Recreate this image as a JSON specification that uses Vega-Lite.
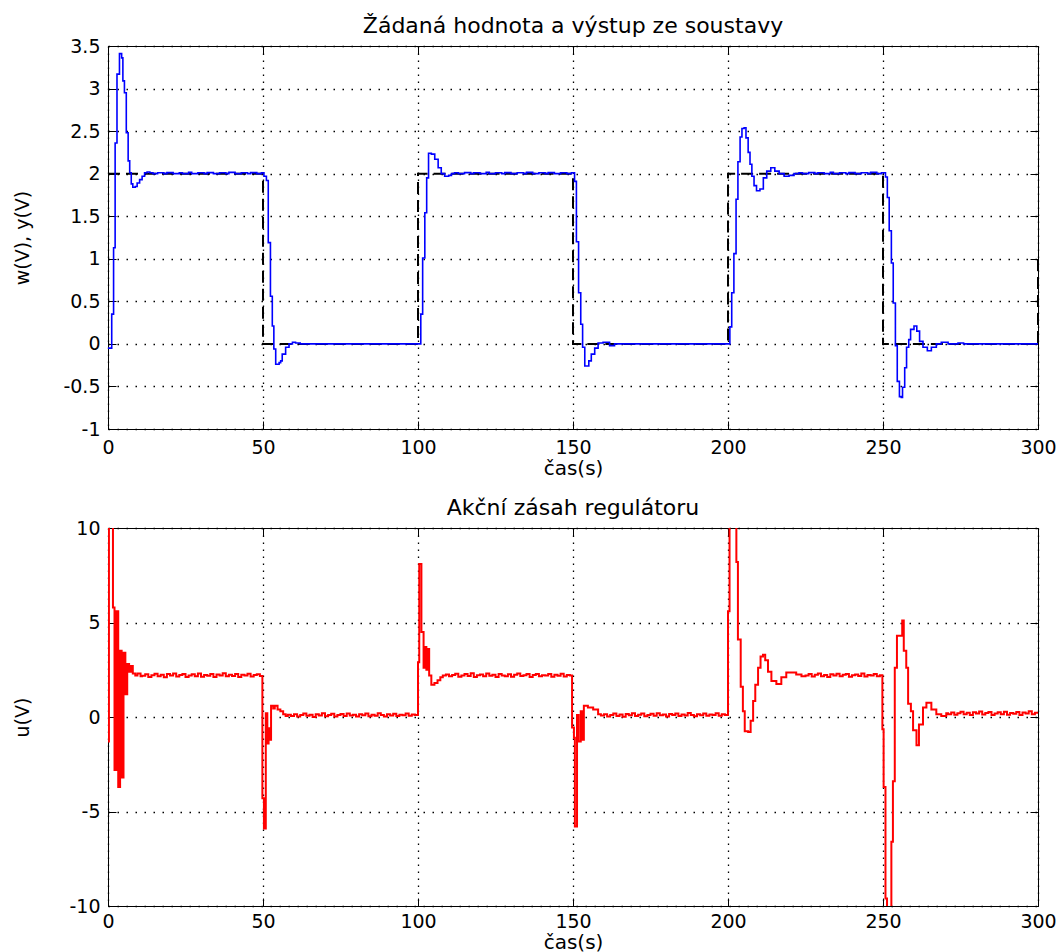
{
"$schema": "https://vega.github.io/schema/vega-lite/v6.json",
"background": "white",
"padding": {"left": 12, "top": 14, "right": 5, "bottom": 0},
"spacing": 17,
"config": {
  "view": {"stroke": "black", "strokeWidth": 1},
  "font": "DejaVu Sans",
  "title": {"font": "DejaVu Sans", "fontSize": 22, "fontWeight": "normal", "color": "black", "offset": -1, "anchor": "middle", "frame": "group"},
  "axis": {"labelFont": "DejaVu Sans", "labelFontSize": 19, "labelColor": "black", "titleFont": "DejaVu Sans", "titleFontSize": 19, "titleFontWeight": "normal", "titleColor": "black", "domainColor": "black", "tickColor": "black", "tickSize": -8, "labelFlush": false, "gridColor": "black", "gridOpacity": 1, "gridWidth": 1.3},
  "axisX": {"labelPadding": 14, "titlePadding": 1, "titleFontSize": 20, "gridDash": [1.5, 5.5]},
  "axisY": {"labelPadding": 16, "gridDash": [1.5, 7.5]}
},
"datasets": {
"w": [{"t":0,"v":2},{"t":50,"v":0},{"t":100,"v":2},{"t":150,"v":0},{"t":200,"v":2},{"t":250,"v":0},{"t":300,"v":1}],
"y": [{"t":0,"v":-0.05},{"t":1.2,"v":0.35},{"t":1.8,"v":1.13},{"t":2.3,"v":2.36},{"t":2.9,"v":3.17},{"t":3.7,"v":3.41},{"t":4.4,"v":3.36},{"t":4.8,"v":3.09},{"t":5.3,"v":2.95},{"t":5.9,"v":2.48},{"t":6.5,"v":2.15},{"t":7.0,"v":2.01},{"t":7.5,"v":1.88},{"t":8.0,"v":1.84},{"t":8.8,"v":1.85},{"t":9.4,"v":1.89},{"t":10.2,"v":1.93},{"t":11.0,"v":1.97},{"t":11.8,"v":2.01},{"t":12.6,"v":2.02},{"t":13.5,"v":2.01},{"t":14.5,"v":2.0},{"t":16,"v":2.01},{"t":18,"v":2.0},{"t":19,"v":2.012},{"t":21,"v":2.0},{"t":23,"v":2.01},{"t":24,"v":2.0},{"t":26,"v":2.015},{"t":27,"v":2.0},{"t":29,"v":2.01},{"t":31,"v":2.0},{"t":32,"v":2.012},{"t":34,"v":2.0},{"t":36,"v":2.01},{"t":38,"v":2.0},{"t":39,"v":2.015},{"t":41,"v":2.0},{"t":43,"v":2.01},{"t":45,"v":2.0},{"t":46,"v":2.012},{"t":48,"v":2.0},{"t":49.5,"v":2.01},{"t":50.3,"v":1.97},{"t":51.1,"v":1.92},{"t":51.7,"v":1.19},{"t":52.4,"v":0.56},{"t":53.0,"v":0.21},{"t":53.5,"v":-0.06},{"t":54.1,"v":-0.24},{"t":55.2,"v":-0.22},{"t":55.7,"v":-0.2},{"t":56.2,"v":-0.12},{"t":57.3,"v":-0.04},{"t":58.4,"v":0.0},{"t":59.5,"v":0.02},{"t":60.5,"v":0.01},{"t":62,"v":0.0},{"t":100.9,"v":0.35},{"t":101.5,"v":1.01},{"t":102.2,"v":1.54},{"t":102.8,"v":1.95},{"t":103.4,"v":2.24},{"t":104.3,"v":2.23},{"t":105.4,"v":2.17},{"t":106.5,"v":2.07},{"t":107.5,"v":2.0},{"t":108.6,"v":1.97},{"t":109.9,"v":1.98},{"t":110.8,"v":2.0},{"t":111.8,"v":2.01},{"t":113,"v":2.0},{"t":115,"v":2.012},{"t":117,"v":2.0},{"t":118,"v":2.01},{"t":120,"v":2.0},{"t":122,"v":2.015},{"t":123,"v":2.0},{"t":125,"v":2.01},{"t":127,"v":2.0},{"t":128,"v":2.012},{"t":130,"v":2.0},{"t":132,"v":2.01},{"t":134,"v":2.0},{"t":135,"v":2.015},{"t":137,"v":2.0},{"t":139,"v":2.01},{"t":141,"v":2.0},{"t":142,"v":2.012},{"t":144,"v":2.0},{"t":146,"v":2.01},{"t":148,"v":2.0},{"t":149.5,"v":2.01},{"t":150.5,"v":1.91},{"t":151.1,"v":1.2},{"t":151.8,"v":0.6},{"t":152.5,"v":0.23},{"t":153.1,"v":-0.04},{"t":153.8,"v":-0.26},{"t":155.1,"v":-0.2},{"t":155.9,"v":-0.12},{"t":157.0,"v":-0.05},{"t":158.1,"v":0.01},{"t":159.7,"v":0.02},{"t":161.8,"v":-0.02},{"t":163.4,"v":0.0},{"t":200.6,"v":0.2},{"t":201.2,"v":0.6},{"t":201.9,"v":1.06},{"t":202.6,"v":1.7},{"t":203.2,"v":2.14},{"t":203.9,"v":2.43},{"t":204.5,"v":2.53},{"t":205.2,"v":2.54},{"t":205.8,"v":2.42},{"t":206.5,"v":2.25},{"t":207.1,"v":2.11},{"t":207.7,"v":1.97},{"t":208.4,"v":1.86},{"t":209.2,"v":1.8},{"t":210.3,"v":1.82},{"t":211.4,"v":1.95},{"t":212.5,"v":2.03},{"t":213.8,"v":2.07},{"t":215.1,"v":2.03},{"t":216.5,"v":2.0},{"t":218.1,"v":1.97},{"t":219.7,"v":1.98},{"t":221.3,"v":2.0},{"t":222.9,"v":2.01},{"t":224,"v":2.0},{"t":226,"v":2.012},{"t":228,"v":2.0},{"t":229,"v":2.01},{"t":231,"v":2.0},{"t":233,"v":2.015},{"t":234,"v":2.0},{"t":236,"v":2.01},{"t":238,"v":2.0},{"t":239,"v":2.012},{"t":241,"v":2.0},{"t":243,"v":2.01},{"t":245,"v":2.0},{"t":246,"v":2.015},{"t":248,"v":2.0},{"t":249.5,"v":2.01},{"t":250.8,"v":1.96},{"t":251.4,"v":1.72},{"t":252.0,"v":1.33},{"t":252.7,"v":0.95},{"t":253.3,"v":0.48},{"t":254.0,"v":-0.02},{"t":254.6,"v":-0.44},{"t":255.3,"v":-0.62},{"t":255.9,"v":-0.63},{"t":256.3,"v":-0.51},{"t":257.0,"v":-0.28},{"t":257.6,"v":-0.04},{"t":258.3,"v":0.05},{"t":258.9,"v":0.17},{"t":260.0,"v":0.21},{"t":260.9,"v":0.15},{"t":261.8,"v":0.03},{"t":262.9,"v":-0.04},{"t":264.3,"v":-0.08},{"t":265.6,"v":-0.04},{"t":267.2,"v":0.0},{"t":268.8,"v":0.02},{"t":271.0,"v":0.0},{"t":274.2,"v":0.01},{"t":276,"v":0.0},{"t":300,"v":0.0}],
"u": [{"t":0,"v":-1.3},{"t":0.3,"v":14},{"t":1.6,"v":5.8},{"t":2.1,"v":-2.8},{"t":2.7,"v":5.6},{"t":3.3,"v":-3.7},{"t":3.9,"v":3.5},{"t":4.4,"v":-3.2},{"t":5.0,"v":3.4},{"t":5.6,"v":1.2},{"t":6.2,"v":2.8},{"t":6.8,"v":2.4},{"t":7.4,"v":2.7},{"t":8.0,"v":2.3},{"t":8.8,"v":2.2},{"t":9.5,"v":2.3},{"t":10.5,"v":2.15},
{"t":11,"v":2.18},{"t":12,"v":2.26},{"t":13,"v":2.12},{"t":14,"v":2.21},{"t":15,"v":2.29},{"t":16,"v":2.15},{"t":17,"v":2.23},{"t":18,"v":2.1},{"t":19,"v":2.27},{"t":20,"v":2.19},{"t":21,"v":2.3},{"t":22,"v":2.14},{"t":23,"v":2.22},{"t":24,"v":2.28},{"t":25,"v":2.12},{"t":26,"v":2.2},{"t":27,"v":2.26},{"t":28,"v":2.16},{"t":29,"v":2.3},{"t":30,"v":2.13},{"t":31,"v":2.22},{"t":32,"v":2.18},{"t":33,"v":2.28},{"t":34,"v":2.11},{"t":35,"v":2.25},{"t":36,"v":2.2},{"t":37,"v":2.31},{"t":38,"v":2.15},{"t":39,"v":2.23},{"t":40,"v":2.17},{"t":41,"v":2.27},{"t":42,"v":2.12},{"t":43,"v":2.24},{"t":44,"v":2.19},{"t":45,"v":2.29},{"t":46,"v":2.14},{"t":47,"v":2.22},{"t":48,"v":2.26},{"t":49,"v":2.17},
{"t":49.8,"v":-4.3},{"t":50.3,"v":-5.9},{"t":50.9,"v":0.2},{"t":51.4,"v":-1.4},{"t":51.8,"v":-0.6},{"t":52.2,"v":-1.2},{"t":52.6,"v":0.6},{"t":53.3,"v":0.45},{"t":53.8,"v":0.6},{"t":54.7,"v":0.4},{"t":55.6,"v":0.3},{"t":56.5,"v":0.15},{"t":57.3,"v":0.05},{"t":58,"v":0.12},
{"t":59,"v":0.05},{"t":60,"v":0.14},{"t":61,"v":0.02},{"t":62,"v":0.1},{"t":63,"v":0.18},{"t":64,"v":0.06},{"t":65,"v":0.12},{"t":66,"v":0.0},{"t":67,"v":0.15},{"t":68,"v":0.08},{"t":69,"v":0.2},{"t":70,"v":0.04},{"t":71,"v":0.11},{"t":72,"v":0.17},{"t":73,"v":0.03},{"t":74,"v":0.1},{"t":75,"v":0.16},{"t":76,"v":0.05},{"t":77,"v":0.19},{"t":78,"v":0.08},{"t":79,"v":0.12},{"t":80,"v":0.02},{"t":81,"v":0.15},{"t":82,"v":0.09},{"t":83,"v":0.18},{"t":84,"v":0.04},{"t":85,"v":0.12},{"t":86,"v":0.07},{"t":87,"v":0.2},{"t":88,"v":0.1},{"t":89,"v":0.03},{"t":90,"v":0.14},{"t":91,"v":0.08},{"t":92,"v":0.17},{"t":93,"v":0.05},{"t":94,"v":0.12},{"t":95,"v":0.09},{"t":96,"v":0.19},{"t":97,"v":0.06},{"t":98,"v":0.13},{"t":99,"v":0.1},
{"t":100.0,"v":2.9},{"t":100.4,"v":8.1},{"t":101.1,"v":4.5},{"t":101.8,"v":2.6},{"t":102.3,"v":3.7},{"t":102.7,"v":2.5},{"t":103.2,"v":3.6},{"t":103.6,"v":2.2},{"t":104.3,"v":1.7},{"t":105.3,"v":1.8},{"t":106.3,"v":1.95},{"t":107.2,"v":2.1},{"t":108,"v":2.2},
{"t":109,"v":2.25},{"t":110,"v":2.15},{"t":111,"v":2.22},{"t":112,"v":2.29},{"t":113,"v":2.13},{"t":114,"v":2.2},{"t":115,"v":2.27},{"t":116,"v":2.17},{"t":117,"v":2.31},{"t":118,"v":2.12},{"t":119,"v":2.21},{"t":120,"v":2.25},{"t":121,"v":2.15},{"t":122,"v":2.3},{"t":123,"v":2.18},{"t":124,"v":2.23},{"t":125,"v":2.11},{"t":126,"v":2.27},{"t":127,"v":2.2},{"t":128,"v":2.16},{"t":129,"v":2.26},{"t":130,"v":2.13},{"t":131,"v":2.23},{"t":132,"v":2.3},{"t":133,"v":2.17},{"t":134,"v":2.21},{"t":135,"v":2.27},{"t":136,"v":2.12},{"t":137,"v":2.22},{"t":138,"v":2.28},{"t":139,"v":2.15},{"t":140,"v":2.21},{"t":141,"v":2.19},{"t":142,"v":2.28},{"t":143,"v":2.13},{"t":144,"v":2.24},{"t":145,"v":2.18},{"t":146,"v":2.29},{"t":147,"v":2.14},{"t":148,"v":2.22},{"t":149,"v":2.2},
{"t":149.7,"v":-0.56},{"t":150.3,"v":-1.1},{"t":150.6,"v":-5.8},{"t":151.3,"v":0.1},{"t":151.8,"v":-1.3},{"t":152.5,"v":0.3},{"t":152.9,"v":-1.2},{"t":153.5,"v":0.6},{"t":154.8,"v":0.5},{"t":156.5,"v":0.4},{"t":158.1,"v":0.15},
{"t":159,"v":0.08},{"t":160,"v":0.15},{"t":161,"v":0.03},{"t":162,"v":0.11},{"t":163,"v":0.19},{"t":164,"v":0.05},{"t":165,"v":0.13},{"t":166,"v":0.01},{"t":167,"v":0.16},{"t":168,"v":0.09},{"t":169,"v":0.2},{"t":170,"v":0.05},{"t":171,"v":0.12},{"t":172,"v":0.18},{"t":173,"v":0.04},{"t":174,"v":0.11},{"t":175,"v":0.17},{"t":176,"v":0.06},{"t":177,"v":0.2},{"t":178,"v":0.09},{"t":179,"v":0.13},{"t":180,"v":0.03},{"t":181,"v":0.16},{"t":182,"v":0.1},{"t":183,"v":0.19},{"t":184,"v":0.05},{"t":185,"v":0.13},{"t":186,"v":0.08},{"t":187,"v":0.21},{"t":188,"v":0.11},{"t":189,"v":0.04},{"t":190,"v":0.15},{"t":191,"v":0.09},{"t":192,"v":0.18},{"t":193,"v":0.06},{"t":194,"v":0.13},{"t":195,"v":0.1},{"t":196,"v":0.2},{"t":197,"v":0.07},{"t":198,"v":0.14},{"t":199,"v":0.11},
{"t":200.0,"v":5.6},{"t":200.5,"v":14},{"t":202.7,"v":8.2},{"t":203.2,"v":4.1},{"t":204.1,"v":1.6},{"t":204.8,"v":0.3},{"t":205.4,"v":-0.75},{"t":206.5,"v":-0.8},{"t":207.3,"v":-0.2},{"t":208.1,"v":0.85},{"t":208.8,"v":1.7},{"t":209.7,"v":2.6},{"t":210.5,"v":3.2},{"t":211.3,"v":3.3},{"t":212.0,"v":3.0},{"t":212.9,"v":2.4},{"t":214.0,"v":1.9},{"t":215.6,"v":1.75},{"t":217.2,"v":2.1},{"t":218.8,"v":2.35},{"t":220.4,"v":2.35},{"t":222.0,"v":2.25},{"t":223.7,"v":2.15},
{"t":225,"v":2.2},{"t":226,"v":2.27},{"t":227,"v":2.14},{"t":228,"v":2.23},{"t":229,"v":2.3},{"t":230,"v":2.16},{"t":231,"v":2.22},{"t":232,"v":2.12},{"t":233,"v":2.26},{"t":234,"v":2.19},{"t":235,"v":2.29},{"t":236,"v":2.15},{"t":237,"v":2.24},{"t":238,"v":2.28},{"t":239,"v":2.13},{"t":240,"v":2.21},{"t":241,"v":2.25},{"t":242,"v":2.17},{"t":243,"v":2.3},{"t":244,"v":2.14},{"t":245,"v":2.22},{"t":246,"v":2.19},{"t":247,"v":2.27},{"t":248,"v":2.15},{"t":249,"v":2.21},
{"t":249.8,"v":-0.65},{"t":250.2,"v":-3.7},{"t":250.8,"v":-9.6},{"t":251.3,"v":-11},{"t":252.2,"v":-12},{"t":252.7,"v":-6.6},{"t":253.2,"v":-3.4},{"t":253.8,"v":2.6},{"t":254.5,"v":4.3},{"t":255.6,"v":4.3},{"t":256.2,"v":5.1},{"t":256.7,"v":3.5},{"t":257.5,"v":2.6},{"t":258.1,"v":0.7},{"t":259.0,"v":0.3},{"t":259.7,"v":-0.7},{"t":260.8,"v":-1.5},{"t":261.6,"v":-0.4},{"t":262.9,"v":0.5},{"t":264.0,"v":0.76},{"t":265.6,"v":0.4},{"t":267.2,"v":0.14},{"t":268.8,"v":0.05},{"t":270.4,"v":0.2},
{"t":271,"v":0.15},{"t":272,"v":0.24},{"t":273,"v":0.12},{"t":274,"v":0.2},{"t":275,"v":0.28},{"t":276,"v":0.14},{"t":277,"v":0.22},{"t":278,"v":0.1},{"t":279,"v":0.25},{"t":280,"v":0.18},{"t":281,"v":0.29},{"t":282,"v":0.13},{"t":283,"v":0.21},{"t":284,"v":0.26},{"t":285,"v":0.11},{"t":286,"v":0.19},{"t":287,"v":0.25},{"t":288,"v":0.15},{"t":289,"v":0.28},{"t":290,"v":0.12},{"t":291,"v":0.21},{"t":292,"v":0.17},{"t":293,"v":0.27},{"t":294,"v":0.1},{"t":295,"v":0.24},{"t":296,"v":0.19},{"t":297,"v":0.3},{"t":298,"v":0.14},{"t":299,"v":0.22},{"t":300,"v":0.18}]
},
"vconcat": [
{
  "title": "Žádaná hodnota a výstup ze soustavy",
  "width": 930, "height": 383,
  "layer": [
    {"data": {"name": "w"},
     "mark": {"type": "line", "interpolate": "step-after", "color": "black", "strokeWidth": 2, "strokeDash": [12, 6]},
     "encoding": {
       "x": {"field": "t", "type": "quantitative", "scale": {"domain": [0, 300], "nice": false},
             "axis": {"orient": "bottom", "title": "čas(s)", "values": [0, 50, 100, 150, 200, 250, 300], "grid": true, "labelPadding": 17}},
       "y": {"field": "v", "type": "quantitative", "scale": {"domain": [-1, 3.5], "nice": false, "zero": false},
             "axis": {"orient": "left", "title": "w(V), y(V)", "values": [-1, -0.5, 0, 0.5, 1, 1.5, 2, 2.5, 3, 3.5], "labelExpr": "'' + datum.value", "grid": true, "titleX": -76}}
     }},
    {"data": {"name": "y"},
     "mark": {"type": "line", "interpolate": "step-after", "color": "#0000ff", "strokeWidth": 1.6},
     "encoding": {
       "x": {"field": "t", "type": "quantitative",
             "axis": {"orient": "top", "labels": false, "title": null, "grid": false, "domain": false, "values": [0, 50, 100, 150, 200, 250, 300]}},
       "y": {"field": "v", "type": "quantitative",
             "axis": {"orient": "right", "labels": false, "title": null, "grid": false, "domain": false, "values": [-1, -0.5, 0, 0.5, 1, 1.5, 2, 2.5, 3, 3.5]}}
     }}
  ]
},
{
  "title": "Akční zásah regulátoru",
  "width": 930, "height": 378,
  "data": {"name": "u"},
  "layer": [
    {"mark": {"type": "line", "interpolate": "step-after", "color": "#ff0000", "strokeWidth": 2, "clip": true},
     "encoding": {
       "x": {"field": "t", "type": "quantitative", "scale": {"domain": [0, 300], "nice": false},
             "axis": {"orient": "bottom", "title": "čas(s)", "values": [0, 50, 100, 150, 200, 250, 300], "grid": true}},
       "y": {"field": "v", "type": "quantitative", "scale": {"domain": [-10, 10], "nice": false},
             "axis": {"orient": "left", "title": "u(V)", "values": [-10, -5, 0, 5, 10], "labelExpr": "'' + datum.value", "grid": true, "titleX": -76}}
     }},
    {"mark": {"type": "line", "interpolate": "step-after", "color": "#ff0000", "strokeWidth": 2, "opacity": 0, "clip": true},
     "encoding": {
       "x": {"field": "t", "type": "quantitative",
             "axis": {"orient": "top", "labels": false, "title": null, "grid": false, "domain": false, "values": [0, 50, 100, 150, 200, 250, 300]}},
       "y": {"field": "v", "type": "quantitative",
             "axis": {"orient": "right", "labels": false, "title": null, "grid": false, "domain": false, "values": [-10, -5, 0, 5, 10]}}
     }}
  ]
}
]
}
